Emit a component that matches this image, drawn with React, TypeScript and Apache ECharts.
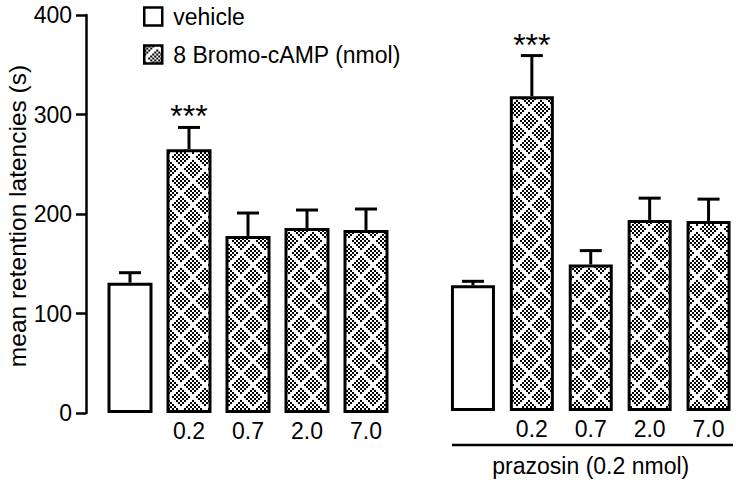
import React, { useEffect, useRef } from "react";
import * as echarts from "echarts";

const categories = ["", "0.2", "0.7", "2.0", "7.0"];
const leftMeans = [131, 265, 178, 186, 184];
const leftErrors = [10, 22, 23, 18, 21];
const leftSig = ["", "***", "", "", ""];
const rightMeans = [127, 318, 148, 193, 192];
const rightErrors = [4, 41, 14, 22, 22];
const rightSig = ["", "***", "", "", ""];
const yMin = 0;
const yMax = 400;
const yInterval = 100;
const vehicleName = "vehicle";
const drugName = "8 Bromo-cAMP (nmol)";
const groupName = "prazosin (0.2 nmol)";
const yName = "mean retention latencies (s)";

const FONT = "Liberation Sans, Arial, Helvetica, sans-serif";

function makePattern(): HTMLCanvasElement {
  const c = document.createElement("canvas");
  const size = 24;
  c.width = size;
  c.height = size;
  const ctx = c.getContext("2d")!;
  ctx.fillStyle = "#fff";
  ctx.fillRect(0, 0, size, size);
  ctx.fillStyle = "#000";
  const n = 12;
  const centers = [
    [0, 0], [12, 0], [0, 12], [12, 12], [6, 6],
  ];
  for (let u = 0; u < n; u++) {
    for (let v = 0; v < n; v++) {
      let d = 1e9;
      for (const [cx, cy] of centers) {
        d = Math.min(d, Math.abs(u - cx) + Math.abs(v - cy));
      }
      if (d <= 4 && (u + v) % 2 === 0) {
        ctx.fillRect(u * 2, v * 2, 2, 2);
      }
    }
  }
  return c;
}

export default function App() {
  const ref = useRef<HTMLDivElement>(null);
  useEffect(() => {
    if (!ref.current) return;
    const chart = echarts.init(ref.current, undefined, { renderer: "svg" });
    const pat = makePattern();
    const patternFill: any = {
      image: pat,
      imageWidth: pat.width,
      imageHeight: pat.height,
      repeat: "repeat",
    };

    const barBase = {
      type: "bar" as const,
      barWidth: 45,
      barGap: "-100%",
      animation: false,
    };

    const vehicleStyle = { color: "#fff", borderColor: "#000", borderWidth: 3 };
    const drugStyle = { color: patternFill, borderColor: "#000", borderWidth: 3 };

    const makeErr = (means: number[], errs: number[], sig: string[], idx: number) => ({
      type: "custom" as const,
      xAxisIndex: idx,
      yAxisIndex: idx,
      silent: true,
      z: 1,
      data: means.map((m, i) => [i, m, m + errs[i]]),
      encode: { x: 0, y: [1, 2] },
      renderItem: (params: any, api: any) => {
        const x = api.value(0);
        const top = api.coord([x, api.value(1)]);
        const hi = api.coord([x, api.value(2)]);
        const children: any[] = [
          {
            type: "line",
            shape: { x1: top[0], y1: top[1], x2: hi[0], y2: hi[1] },
            style: { stroke: "#000", lineWidth: 3 },
          },
          {
            type: "line",
            shape: { x1: hi[0] - 11, y1: hi[1], x2: hi[0] + 11, y2: hi[1] },
            style: { stroke: "#000", lineWidth: 3 },
          },
        ];
        const s = sig[params.dataIndex];
        if (s) {
          children.push({
            type: "text",
            style: {
              text: s,
              x: hi[0],
              y: hi[1] - 11,
              align: "center",
              verticalAlign: "middle",
              font: `32px ${FONT}`,
              fill: "#000",
            },
          });
        }
        return { type: "group", children };
      },
    });

    const xAxisBase = {
      type: "category" as const,
      data: categories,
      axisLine: { show: false },
      axisTick: { show: false },
      axisLabel: { fontSize: 23, color: "#000", fontFamily: FONT, margin: 6 },
    };

    chart.setOption({
      animation: false,
      textStyle: { fontFamily: FONT },
      legend: {
        orient: "vertical",
        left: 143,
        top: 5,
        itemWidth: 18,
        itemHeight: 18,
        itemGap: 15,
        padding: 0,
        icon: "rect",
        selectedMode: false,
        itemStyle: { borderWidth: 2.5, borderColor: "#000" },
        textStyle: { fontSize: 23, color: "#000", fontFamily: FONT, padding: [0, 0, 0, 6] },
        data: [vehicleName, drugName],
      },
      grid: [
        { left: 100.5, width: 295, top: 15, height: 398 },
        { left: 443.5, width: 296, top: 15, height: 398 },
      ],
      xAxis: [
        { ...xAxisBase, gridIndex: 0 },
        {
          ...xAxisBase,
          gridIndex: 1,
          name: groupName,
          nameLocation: "middle",
          nameGap: 43,
          nameTextStyle: { fontSize: 23, color: "#000", fontFamily: FONT },
        },
      ],
      yAxis: [
        {
          type: "value",
          gridIndex: 0,
          min: yMin,
          max: yMax,
          interval: yInterval,
          offset: 14.5,
          name: yName,
          nameLocation: "middle",
          nameGap: 52,
          nameTextStyle: {
            fontSize: 24.5,
            color: "#000",
            fontFamily: FONT,
            padding: [0, 4, 0, 0],
          },
          axisLine: { show: true, lineStyle: { color: "#000", width: 2.5 } },
          axisTick: { show: true, length: 10, lineStyle: { color: "#000", width: 2.5 } },
          axisLabel: { fontSize: 23, color: "#000", fontFamily: FONT, margin: 14 },
          splitLine: { show: false },
        },
        {
          type: "value",
          gridIndex: 1,
          min: yMin,
          max: yMax,
          interval: yInterval,
          show: false,
          splitLine: { show: false },
        },
      ],
      graphic: [
        {
          type: "line",
          shape: { x1: 452, y1: 445, x2: 733, y2: 445 },
          style: { stroke: "#000", lineWidth: 2.5 },
        },
      ],
      series: [
        {
          ...barBase,
          name: vehicleName,
          xAxisIndex: 0,
          yAxisIndex: 0,
          itemStyle: vehicleStyle,
          data: leftMeans.map((v, i) => (i === 0 ? v : "-")),
        },
        {
          ...barBase,
          name: drugName,
          xAxisIndex: 0,
          yAxisIndex: 0,
          itemStyle: drugStyle,
          data: leftMeans.map((v, i) => (i === 0 ? "-" : v)),
        },
        {
          ...barBase,
          name: vehicleName,
          xAxisIndex: 1,
          yAxisIndex: 1,
          barWidth: 44,
          itemStyle: vehicleStyle,
          data: rightMeans.map((v, i) => (i === 0 ? v : "-")),
        },
        {
          ...barBase,
          name: drugName,
          xAxisIndex: 1,
          yAxisIndex: 1,
          barWidth: 44,
          itemStyle: drugStyle,
          data: rightMeans.map((v, i) => (i === 0 ? "-" : v)),
        },
        makeErr(leftMeans, leftErrors, leftSig, 0),
        makeErr(rightMeans, rightErrors, rightSig, 1),
      ],
    });
    return () => chart.dispose();
  }, []);
  return (
    <div
      ref={ref}
      style={{ position: "fixed", left: 0, top: 0, width: 738, height: 482, background: "#fff" }}
    />
  );
}
